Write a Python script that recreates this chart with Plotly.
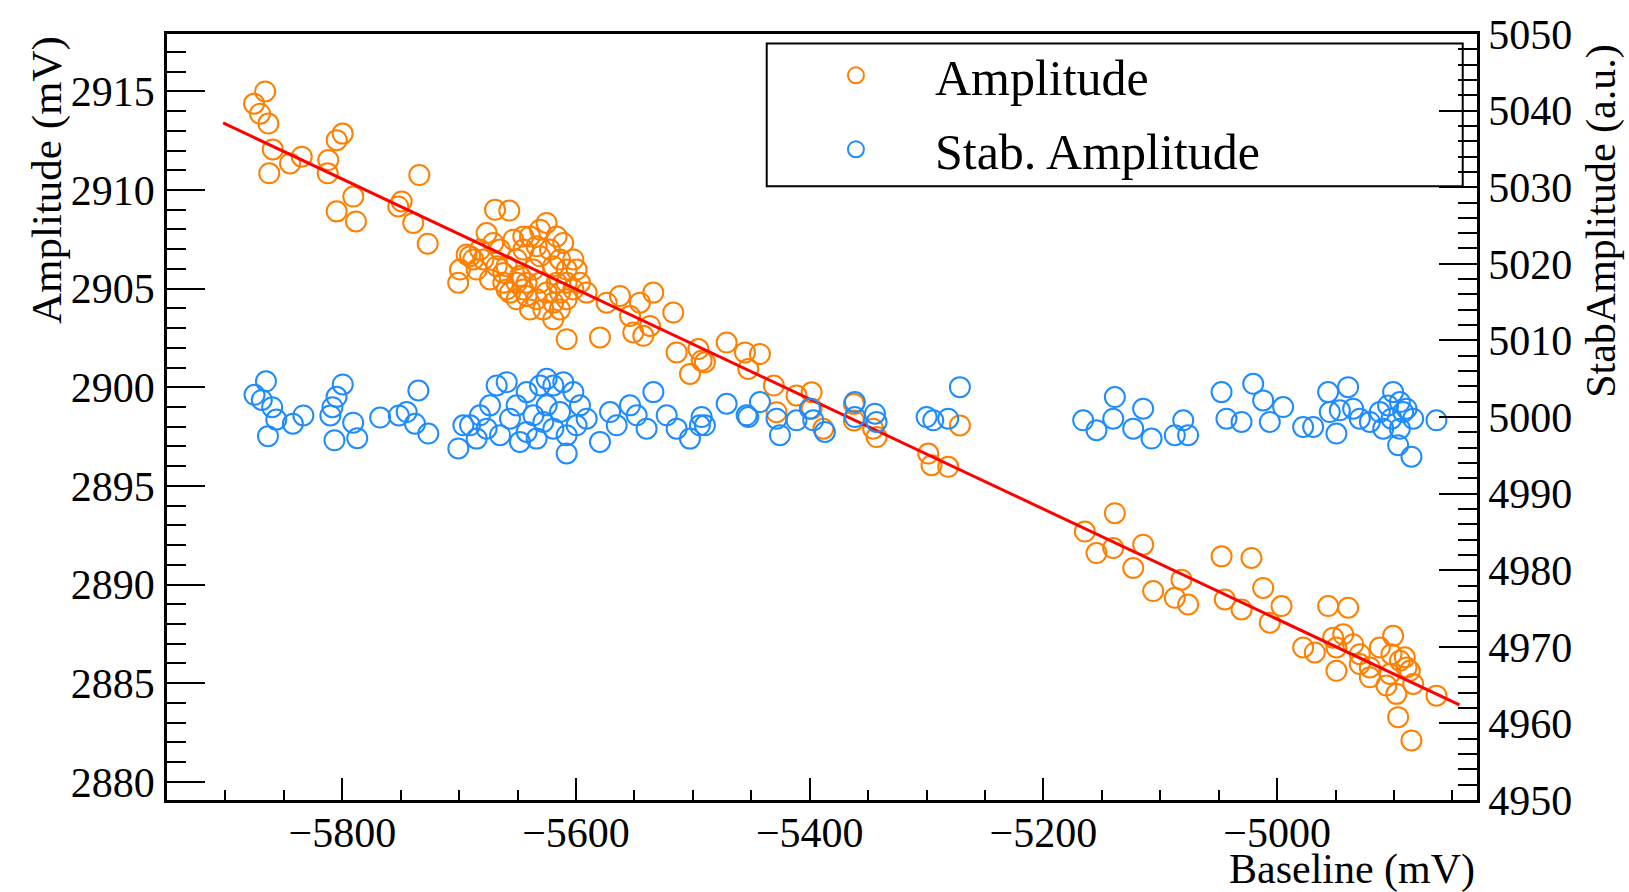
import plotly.graph_objects as go

# ---------------- data ----------------
amp_x = [
    -5866, -5875.5, -5870.4, -5863.3, -5859.5, -5862.5, -5844.7, -5834.7, -5812, -5812.5,
    -5804.8, -5799.7, -5734.1, -5790.6, -5804.8, -5788.3, -5749.2, -5752.1, -5739.3, -5726.9,
    -5700.8, -5690.7,
    -5669.3, -5657.1, -5693.6, -5676.5, -5670.8, -5665.1, -5679.3, -5685.0, -5673.6, -5662.2,
    -5656.5, -5667.9, -5659.4, -5650.8, -5648.0, -5642.3, -5639.4, -5630.8, -5625.2, -5616.6,
    -5610.9, -5622.3, -5630.8, -5636.5, -5630.8, -5625.2, -5619.5, -5613.8, -5608.0, -5602.3,
    -5602.3, -5599.5, -5596.6, -5590.9, -5619.5, -5608.0, -5579.5, -5573.8, -5562.4, -5553.8,
    -5545.3, -5533.9, -5536.7, -5542.4, -5551.0, -5516.8, -5513.9,
    -5642.3, -5633.7, -5628.0, -5639.4, -5645.1, -5650.8, -5616.6, -5613.7, -5608.0, -5682.2,
    -5687.9, -5699.3, -5659.4, -5650.8, -5662.2, -5633.7, -5645.1, -5619.5, -5613.7, -5608.0,
    -5645.1, -5653.6,
    -5502.5, -5495.3, -5492.5, -5455.4, -5471.1,
    -5489.7, -5442.6, -5452.6, -5430.7, -5428.4, -5411.3, -5398.4, -5398.4, -5388.4, -5362.2,
    -5362.2, -5345.7, -5342.8, -5298.6, -5295.8, -5281.5, -5271.5,
    -5164.6, -5138.9, -5154.6, -5140.3, -5114.7, -5123.2, -5106.1, -5081.9, -5047.6, -5022.0,
    -5012.0, -5087.6, -5076.2, -5044.8, -5030.5, -4996.3, -5006.3, -4956.4, -4939.3, -4977.8,
    -4967.8, -4952.1, -4949.3, -4943.5, -4935.0, -4929.3, -4949.3, -4920.7, -4920.7, -4900.8,
    -4902.2, -4895.0, -4889.3, -4883.6, -4906.5, -4898.0, -4890.8, -4886.5, -4903.6, -4896.5,
    -4885.1, -4863.7, -4929.3, -4912.2,
]
amp_y = [
    2915.0, 2914.38, 2913.87, 2913.37, 2912.06, 2910.85, 2911.35, 2911.69, 2911.52, 2910.85,
    2912.53, 2912.86, 2910.76, 2909.67, 2908.92, 2908.41, 2909.42, 2909.17, 2908.33, 2907.28,
    2905.30, 2906.65,
    2909.0, 2908.96, 2906.73, 2907.82, 2907.32, 2906.98, 2906.48, 2905.97, 2905.47, 2905.30,
    2904.8, 2906.14, 2906.14, 2906.48, 2905.64, 2905.30, 2907.65, 2907.99, 2908.33, 2907.65,
    2907.32, 2906.98, 2906.64, 2905.97, 2905.30, 2904.80, 2904.29, 2903.95, 2904.46, 2904.96,
    2906.48, 2905.97, 2905.30, 2904.80, 2903.45, 2902.44, 2902.53, 2904.29, 2904.63, 2903.62,
    2904.29, 2904.80, 2903.11, 2902.61, 2902.78, 2903.79, 2901.77,
    2904.63, 2904.46, 2903.95, 2903.95, 2904.96, 2905.30, 2905.30, 2904.80, 2905.30, 2906.98,
    2906.48, 2905.97, 2904.96, 2904.46, 2905.80, 2907.15, 2906.98, 2906.14, 2906.48, 2905.97,
    2907.65, 2907.48,
    2900.68, 2901.94, 2901.35, 2901.77, 2902.27,
    2901.27, 2901.69, 2900.93, 2900.09, 2898.74, 2899.58, 2899.75, 2898.91, 2897.90, 2899.16,
    2898.32, 2897.90, 2897.48, 2896.64, 2896.05, 2895.97, 2898.07,
    2892.69, 2893.62, 2891.60, 2891.85, 2892.02, 2890.84, 2889.67, 2890.25, 2891.43, 2891.35,
    2889.83, 2889.33, 2888.99, 2889.25, 2888.74, 2888.91, 2888.07, 2888.91, 2888.83, 2886.81,
    2886.56, 2887.31, 2886.81, 2887.48, 2886.98, 2886.47, 2885.63, 2885.80, 2885.30, 2887.40,
    2886.47, 2886.14, 2885.80, 2884.96, 2884.88, 2884.46, 2886.31, 2885.63, 2885.47, 2883.28,
    2882.10, 2884.37, 2885.97, 2886.81,
]

stab_x = [
    -5875.1, -5865.3, -5868.9, -5860.0, -5863.6, -5856.5, -5842.3, -5833.3, -5810.2, -5808.4,
    -5804.9, -5799.6, -5806.7, -5790.7, -5787.2, -5767.6, -5751.6,
    -5734.9, -5744.9, -5737.8, -5726.4, -5700.7, -5690.7, -5682.2, -5673.6, -5667.9, -5659.3,
    -5676.5, -5665.0, -5656.5, -5650.8, -5642.2, -5630.8, -5625.1, -5619.4, -5610.9, -5602.3,
    -5596.6, -5590.9, -5636.5, -5628.0, -5619.4, -5608.0, -5599.5, -5633.7, -5608.0, -5625.1,
    -5613.7, -5642.2, -5648.0, -5579.5, -5570.9, -5565.2, -5553.8, -5548.1, -5539.6, -5533.8,
    -5522.4, -5513.9, -5502.5, -5494.0, -5471.1, -5454.0, -5685.0, -5696.4,
    -5492.5, -5489.7, -5452.6, -5442.6, -5428.4, -5425.5, -5411.3, -5399.8, -5397.0, -5387.0,
    -5361.4, -5361.4, -5344.2, -5342.8, -5300.0, -5294.3, -5281.5, -5271.5, -5166.0, -5154.6,
    -5138.9, -5140.3, -5123.2, -5114.7,
    -5107.5, -5087.6, -5080.4, -5076.2, -5047.6, -5043.4, -5030.5, -5020.5, -5012.0, -5006.3,
    -4994.9, -4977.8, -4969.2, -4956.4, -4939.3, -4955.0, -4949.3, -4946.4, -4935.0, -4929.3,
    -4920.7, -4900.8, -4905.1, -4895.0, -4889.3, -4902.2, -4895.0, -4909.3, -4883.6, -4896.5,
    -4885.1, -4863.7, -4892.2, -4912.2,
]
stab_y = [
    5002.9, 5004.66, 5002.23, 5001.28, 4997.5, 4999.66, 4999.12, 5000.2, 5000.2, 5001.28,
    5002.63, 5004.25, 4996.96, 4999.26, 4997.23, 4999.93, 5000.2,
    5003.46, 5000.65, 4999.13, 4997.84, 4995.89, 4998.92, 5000.22, 5001.52, 5004.12, 5004.55,
    4998.48, 4997.62, 4999.78, 5001.52, 5003.25, 5004.12, 5004.98, 5004.12, 5004.55, 5003.25,
    5001.52, 4999.78, 5000.22, 4999.35, 4998.48, 4997.62, 4998.92, 4997.18, 4995.24, 5001.52,
    5000.65, 4998.05, 4996.75, 4996.75, 5000.65, 4998.92, 5001.52, 5000.22, 4998.48, 5003.25,
    5000.22, 4998.48, 4997.18, 4998.92, 5001.73, 5000.22, 4997.18, 4998.92,
    4999.99, 4998.92, 4999.99, 5001.95, 4999.78, 4997.62, 4999.57, 5001.08, 4999.57, 4998.05,
    5001.95, 4999.99, 5000.43, 4999.35, 4999.99, 4999.57, 4999.78, 5003.90, 4999.57, 4998.27,
    5002.60, 4999.78, 4998.48, 5001.08,
    4997.19, 4997.62, 4999.57, 4997.62, 5003.25, 4999.78, 4999.35, 5004.33, 5002.17, 4999.35,
    5001.30, 4998.70, 4998.70, 5003.25, 5003.90, 5000.65, 4997.84, 5000.87, 5001.08, 4999.78,
    4999.35, 5003.25, 5001.51, 5001.95, 5001.08, 4999.78, 4998.48, 4998.48, 4999.78, 4996.32,
    4994.82, 4999.57, 5000.65, 5000.65,
]

# linear fit line end points
fit_x = [-5902.0, -4844.0]
fit_y = [2913.4, 2883.9]

x_range = [-5950, -4829]
y_range = [2879.08, 2917.91]
y2_range = [4950, 5050]

# ---------------- styling ----------------
ORANGE = "#FF8000"
BLUE = "#1E8CFF"
FONT = "Liberation Serif"

fig = go.Figure()
fig.add_trace(go.Scatter(
    x=amp_x, y=amp_y, mode="markers", name="Amplitude", legendgroup="a",
    marker=dict(symbol="circle-open", size=20, color=ORANGE, line=dict(width=2, color=ORANGE)),
    yaxis="y",
))
fig.add_trace(go.Scatter(
    x=stab_x, y=stab_y, mode="markers", name="Stab. Amplitude", legendgroup="b",
    marker=dict(symbol="circle-open", size=20, color=BLUE, line=dict(width=2, color=BLUE)),
    yaxis="y2",
))
fig.add_trace(go.Scatter(
    x=fit_x, y=fit_y, mode="lines", line=dict(color="#FF0000", width=3),
    showlegend=False, yaxis="y", hoverinfo="skip",
))

axis_common = dict(
    showgrid=False, zeroline=False, showline=True, linecolor="black", linewidth=2.5,
    ticks="inside", tickcolor="black", tickwidth=2,
    tickfont=dict(family=FONT, size=42, color="black"),
)

fig.update_layout(
    width=1629, height=892,
    margin=dict(l=167, r=152, t=30, b=92),
    paper_bgcolor="white", plot_bgcolor="white",
    font=dict(family=FONT, color="black"),
    xaxis=dict(
        **axis_common, range=x_range, dtick=200, tick0=0, ticklen=22, mirror=True,
        minor=dict(ticks="inside", dtick=50, ticklen=10, tickcolor="black", tickwidth=2),
        ticklabelstandoff=-6,
    ),
    yaxis=dict(
        **axis_common, range=y_range, dtick=5, tick0=2880, ticklen=38,
        minor=dict(ticks="inside", dtick=1, ticklen=19, tickcolor="black", tickwidth=2),
        ticklabelstandoff=1,
    ),
    yaxis2=dict(
        **axis_common, range=y2_range, dtick=10, tick0=4950, ticklen=38,
        overlaying="y", side="right", anchor="x",
        minor=dict(ticks="inside", dtick=2, ticklen=19, tickcolor="black", tickwidth=2),
        ticklabelstandoff=0,
    ),
    legend=dict(
        x=0.4656, y=0.997, xanchor="left", yanchor="top",
        bgcolor="rgba(0,0,0,0)", borderwidth=0,
        font=dict(family=FONT, size=50, color="black"),
        itemwidth=148, tracegroupgap=6,
    ),
    showlegend=True,
    shapes=[dict(
        type="rect", xref="paper", yref="paper",
        x0=0.4578, x1=0.9891, y0=0.8013, y1=0.9875,
        line=dict(color="black", width=2), fillcolor="white", layer="below",
    )],
    annotations=[
        dict(text="Amplitude (mV)", xref="paper", yref="paper", x=-0.0916, y=1.0,
             xanchor="center", yanchor="top", textangle=-90, showarrow=False,
             font=dict(family=FONT, size=43, color="black")),
        dict(text="StabAmplitude (a.u.)", xref="paper", yref="paper", x=1.0955, y=0.988,
             xanchor="center", yanchor="top", textangle=-90, showarrow=False,
             font=dict(family=FONT, size=42, color="black")),
        dict(text="Baseline (mV)", xref="paper", yref="paper", x=1.0, y=-0.0905,
             xanchor="right", yanchor="middle", showarrow=False,
             font=dict(family=FONT, size=42, color="black")),
    ],
)

fig.write_html(
    "out.html",
    config={"displayModeBar": False},
    post_script="document.body.style.margin='0px';document.body.style.overflow='hidden';",
)
